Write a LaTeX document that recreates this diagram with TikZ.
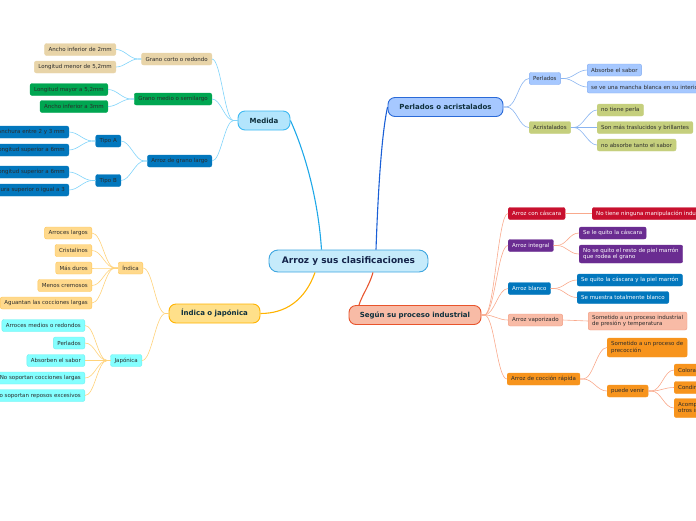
\documentclass[tikz,border=0pt]{standalone}
\usepackage{fontspec}
\setmainfont{DejaVu Sans}
\definecolor{txt}{HTML}{2B2B2B}
\definecolor{txtb}{HTML}{0E2F3C}
\definecolor{cenF}{HTML}{C6EBFB}
\definecolor{cenD}{HTML}{3EA6E0}
\definecolor{cenT}{HTML}{14244A}
\definecolor{medF}{HTML}{B3E5FC}
\definecolor{medD}{HTML}{3DB9F2}
\definecolor{medM}{HTML}{1FA8E8}
\definecolor{medL}{HTML}{81D4FA}
\definecolor{tanF}{HTML}{E8D4A8}
\definecolor{grnF}{HTML}{00A651}
\definecolor{dblF}{HTML}{0277BD}
\definecolor{perF}{HTML}{A6C8FF}
\definecolor{perD}{HTML}{2A6AD8}
\definecolor{perM}{HTML}{1A5FD6}
\definecolor{perL}{HTML}{8AB4F0}
\definecolor{ppD}{HTML}{7FA9F0}
\definecolor{acrF}{HTML}{C5CF7D}
\definecolor{indF}{HTML}{FFE08A}
\definecolor{indD}{HTML}{FFB300}
\definecolor{indL}{HTML}{FFD27A}
\definecolor{idcF}{HTML}{FFD98C}
\definecolor{idcD}{HTML}{FFC654}
\definecolor{japF}{HTML}{84FFFF}
\definecolor{japD}{HTML}{6EEFEF}
\definecolor{segF}{HTML}{F8BBA6}
\definecolor{segD}{HTML}{E8542C}
\definecolor{segL}{HTML}{F9A98C}
\definecolor{redF}{HTML}{C8102E}
\definecolor{purF}{HTML}{6A2C91}
\definecolor{vapD}{HTML}{F29A80}
\definecolor{oraF}{HTML}{F7941D}
\begin{document}
\begin{tikzpicture}[x=1pt,y=-1pt,
  every node/.style={text=txt},
  box/.style={rounded corners=2pt, font=\fontsize{5.5}{6.6}\selectfont, inner xsep=4pt, inner ysep=2pt, minimum height=12pt, align=left, line width=0.4pt},
  lone/.style={rounded corners=7pt, font=\fontsize{7}{8.4}\bfseries\selectfont, minimum height=19pt, line width=0.9pt, text=txtb},
  cen/.style={rounded corners=9pt, font=\fontsize{9}{10.8}\bfseries\selectfont, minimum height=22pt, minimum width=159pt, line width=0.9pt, text=cenT, fill=cenF, draw=cenD},
  tanb/.style={box, fill=tanF, draw=tanF},
  grnb/.style={box, fill=grnF, draw=grnF},
  dblb/.style={box, fill=dblF, draw=dblF},
  ppb/.style={box, fill=perF, draw=ppD},
  acrb/.style={box, fill=acrF, draw=acrF},
  idcb/.style={box, fill=idcF, draw=idcD},
  japb/.style={box, fill=japF, draw=japD},
  redb/.style={box, fill=redF, draw=redF, text=white},
  purb/.style={box, fill=purF, draw=purF, text=white},
  blwb/.style={box, fill=dblF, draw=dblF, text=white},
  vapb/.style={box, fill=segF, draw=vapD},
  orab/.style={box, fill=oraF, draw=oraF},
  hc/.style={to path={.. controls +(#1,0) and +(-#1,0) .. (\tikztotarget)}},
  ln/.style={draw=#1, line width=0.6pt},
  mn/.style={draw=#1, line width=1.1pt},
]
\useasboundingbox (0,0) rectangle (696,520);
\clip (0,0) rectangle (696,520);

% ---------- nodes ----------
\node[cen] (c) at (348.5,261) {Arroz y sus clasificaciones};

\node[lone, fill=medF, draw=medD, minimum width=52pt] (med) at (264,120.5) {Medida};
\node[lone, fill=perF, draw=perD, minimum width=115pt] (per) at (445.5,107) {Perlados o acristalados};
\node[lone, fill=indF, draw=indD, minimum width=91pt] (ind) at (214.5,313.5) {Índica o japónica};
\node[lone, fill=segF, draw=segD, minimum width=132pt] (seg) at (415,315) {Según su proceso industrial};

% Medida
\node[tanb, anchor=east] (gc) at (212,59) {Grano corto o redondo};
\node[tanb, anchor=east] (gc1) at (116,49.5) {Ancho inferior de 2mm};
\node[tanb, anchor=east] (gc2) at (116,67) {Longitud menor de 5,2mm};
\node[grnb, anchor=east] (gm) at (212,99) {Grano medio o semilargo};
\node[grnb, anchor=east] (gm1) at (108,89.5) {Longitud mayor a 5,2mm};
\node[grnb, anchor=east] (gm2) at (108,106.5) {Ancho inferior a 3mm};
\node[dblb, anchor=east] (gl) at (212,161) {Arroz de grano largo};
\node[dblb, anchor=east] (ta) at (121,141) {Tipo A};
\node[dblb, anchor=east] (ta1) at (69,132) {Anchura entre 2 y 3 mm};
\node[dblb, anchor=east] (ta2) at (69,150) {Longitud superior a 6mm};
\node[dblb, anchor=east] (tb) at (121,180.5) {Tipo B};
\node[dblb, anchor=east] (tb1) at (69,172) {Longitud superior a 6mm};
\node[dblb, anchor=east] (tb2) at (69,190) {Anchura superior o igual a 3};

% Indica o japonica
\node[idcb, anchor=east] (idc) at (143,268) {Índica};
\node[idcb, anchor=east] (i1) at (92,233) {Arroces largos};
\node[idcb, anchor=east] (i2) at (92,250.5) {Cristalinos};
\node[idcb, anchor=east] (i3) at (92,268) {Más duros};
\node[idcb, anchor=east] (i4) at (92,285.5) {Menos cremosos};
\node[idcb, anchor=east] (i5) at (92,303) {Aguantan las cocciones largas};
\node[japb, anchor=east] (jap) at (142,360.5) {Japónica};
\node[japb, anchor=east] (j1) at (85,325.5) {Arroces medios o redondos};
\node[japb, anchor=east] (j2) at (85,343) {Perlados};
\node[japb, anchor=east] (j3) at (85,360.5) {Absorben el sabor};
\node[japb, anchor=east] (j4) at (85,378) {No soportan cocciones largas};
\node[japb, anchor=east] (j5) at (85,395.5) {No soportan reposos excesivos};

% Perlados o acristalados
\node[ppb, anchor=west] (pp) at (529,78.5) {Perlados};
\node[ppb, anchor=west] (pp1) at (587,70) {Absorbe el sabor};
\node[ppb, anchor=west] (pp2) at (587,87) {se ve una mancha blanca en su interior};
\node[acrb, anchor=west] (pa) at (529,127.5) {Acristalados};
\node[acrb, anchor=west] (pa1) at (597,110) {no tiene perla};
\node[acrb, anchor=west] (pa2) at (597,127.5) {Son más traslucidos y brillantes};
\node[acrb, anchor=west] (pa3) at (597,145) {no absorbe tanto el sabor};

% Segun su proceso industrial
\node[redb, anchor=west] (s1) at (508,213.5) {Arroz con cáscara};
\node[redb, anchor=west] (s11) at (592,213.5) {No tiene ninguna manipulación industrial};
\node[purb, anchor=west] (s2) at (508,245.5) {Arroz integral};
\node[purb, anchor=west] (s21) at (579,233) {Se le quito la cáscara};
\node[purb, anchor=west, minimum height=18pt] (s22) at (579,254) {No se quito el resto de piel marrón\\ que rodea el grano};
\node[blwb, anchor=west] (s3) at (508,288.5) {Arroz blanco};
\node[blwb, anchor=west] (s31) at (577,280) {Se quito la cáscara y la piel marrón};
\node[blwb, anchor=west] (s32) at (577,297.5) {Se muestra totalmente blanco};
\node[vapb, anchor=west] (s4) at (508,320) {Arroz vaporizado};
\node[vapb, anchor=west, minimum height=18pt] (s41) at (588,321) {Sometido a un proceso industrial\\de presión y temperatura};
\node[orab, anchor=west] (s5) at (507,379) {Arroz de cocción rápida};
\node[orab, anchor=west, minimum height=19pt] (s51) at (607,347.5) {Sometido a un proceso de\\precocción};
\node[orab, anchor=west] (s52) at (607,391) {puede venir};
\node[orab, anchor=west] (s521) at (674,370) {Colorantes};
\node[orab, anchor=west] (s522) at (674,387.5) {Condimentos};
\node[orab, anchor=west, minimum height=19pt] (s523) at (674,408) {Acompañado de\\otros ingredientes};

% ---------- connectors ----------
\begin{scope}[on background layer/.try]
\end{scope}
\draw[mn=medM] ([xshift=-27pt]c.north) .. controls +(-4,-60) and +(10,22) .. (med.east);
\draw[mn=perM] ([xshift=27.5pt]c.north) .. controls +(3,-85) and +(-4,18) .. (per.west);
\draw[mn=indD] ([xshift=-33.5pt]c.south) .. controls +(-10,28) and +(25,0) .. (ind.east);
\draw[mn=segD] ([xshift=24.5pt]c.south) .. controls +(-4,14) and +(3,-10) .. ([xshift=-56pt]seg.north);

\foreach \t in {gc,gm,gl} \draw[ln=medL] (med.west) -- ++(-4,0) to[hc=-9] (\t.east);
\foreach \t in {gc1,gc2} \draw[ln=medL] (gc.west) -- ++(-3,0) to[hc=-9] (\t.east);
\foreach \t in {gm1,gm2} \draw[ln=medL] (gm.west) -- ++(-3,0) to[hc=-9] (\t.east);
\foreach \t in {ta,tb} \draw[ln=medL] (gl.west) -- ++(-3,0) to[hc=-9] (\t.east);
\foreach \t in {ta1,ta2} \draw[ln=medL] (ta.west) -- ++(-3,0) to[hc=-9] (\t.east);
\foreach \t in {tb1,tb2} \draw[ln=medL] (tb.west) -- ++(-3,0) to[hc=-9] (\t.east);

\foreach \t in {idc,jap} \draw[ln=indL] (ind.west) -- ++(-3,0) to[hc=-10] (\t.east);
\foreach \t in {i1,i2,i3,i4,i5} \draw[ln=indL] (idc.west) -- ++(-3,0) to[hc=-10] (\t.east);
\foreach \t in {j1,j2,j3,j4,j5} \draw[ln=indL] (jap.west) -- ++(-3,0) to[hc=-10] (\t.east);

\foreach \t in {pp,pa} \draw[ln=perL] (per.east) -- ++(3,0) to[hc=10] (\t.west);
\foreach \t in {pp1,pp2} \draw[ln=perL] (pp.east) -- ++(3,0) to[hc=9] (\t.west);
\foreach \t in {pa1,pa2,pa3} \draw[ln=perL] (pa.east) -- ++(3,0) to[hc=9] (\t.west);

\foreach \t in {s1,s2,s3,s4,s5} \draw[ln=segL] (seg.east) -- ++(3,0) to[hc=10] (\t.west);
\draw[ln=segL] (s1.east) -- (s11.west);
\foreach \t in {s21,s22} \draw[ln=segL] (s2.east) -- ++(3,0) to[hc=10] (\t.west);
\foreach \t in {s31,s32} \draw[ln=segL] (s3.east) -- ++(3,0) to[hc=10] (\t.west);
\draw[ln=segL] (s4.east) -- (s41.west);
\foreach \t in {s51,s52} \draw[ln=segL] (s5.east) -- ++(3,0) to[hc=10] (\t.west);
\foreach \t in {s521,s522,s523} \draw[ln=segL] (s52.east) -- ++(3,0) to[hc=10] (\t.west);
\end{tikzpicture}
\end{document}
